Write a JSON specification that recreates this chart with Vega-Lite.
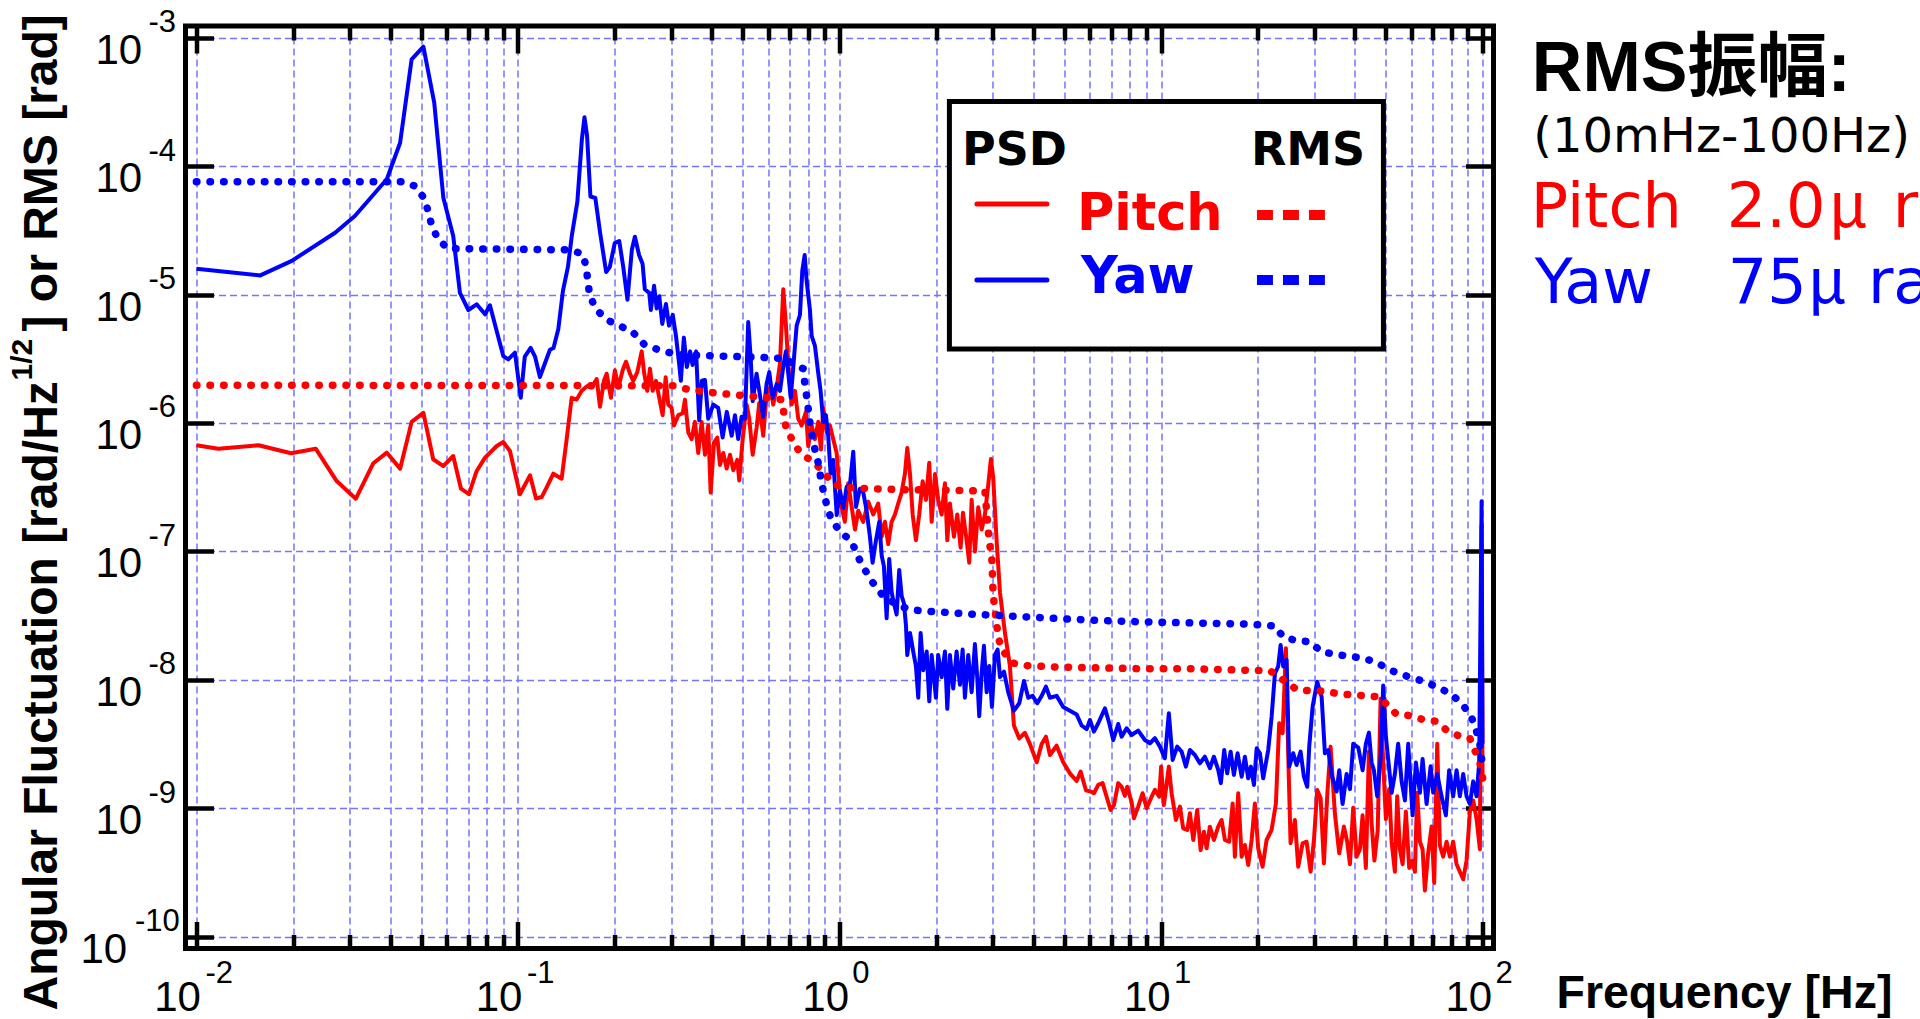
{
  "$schema": "https://vega.github.io/schema/vega-lite/v6.json",
  "width": 1308,
  "height": 922.5,
  "autosize": {"type": "none"},
  "padding": {"left": 185.5, "top": 26, "right": 426.5, "bottom": 70.5},
  "background": "white",
  "config": {
    "view": {"stroke": "black", "strokeWidth": 5},
    "axis": {"labelFont": "Liberation Sans", "labelColor": "black", "titleColor": "black", "titleFont": "Liberation Sans", "titleFontWeight": "bold", "labelFlush": false, "labelOverlap": false, "labelBound": false, "domain": false, "ticks": false, "grid": false}
  },
  "datasets": {
    "pitch": [
      {"f":0.0100,"v":6.71e-7},{"f":0.0117,"v":6.31e-7},{"f":0.0156,"v":6.71e-7},{"f":0.0197,"v":5.81e-7},{"f":0.0235,"v":6.31e-7},{"f":0.0273,"v":3.53e-7},{"f":0.0313,"v":2.57e-7},{"f":0.0355,"v":4.86e-7},{"f":0.0391,"v":5.87e-7},{"f":0.0430,"v":4.41e-7},{"f":0.0467,"v":1.02e-6},{"f":0.0508,"v":1.20e-6},{"f":0.0545,"v":5.22e-7},{"f":0.0586,"v":4.62e-7},{"f":0.0629,"v":5.53e-7},{"f":0.0665,"v":3.08e-7},{"f":0.0704,"v":2.79e-7},{"f":0.0744,"v":4.23e-7},{"f":0.0790,"v":5.37e-7},{"f":0.0859,"v":6.62e-7},{"f":0.0900,"v":7.11e-7},{"f":0.0944,"v":6.05e-7},{"f":0.1014,"v":2.79e-7},{"f":0.109,"v":3.91e-7},{"f":0.1138,"v":2.58e-7},{"f":0.1185,"v":2.65e-7},{"f":0.1228,"v":3.15e-7},{"f":0.1288,"v":4.03e-7},{"f":0.1367,"v":3.68e-7},{"f":0.1417,"v":7.48e-7},{"f":0.1469,"v":1.57e-6},{"f":0.1522,"v":1.52e-6},{"f":0.1578,"v":1.78e-6},{"f":0.1643,"v":1.94e-6},{"f":0.1695,"v":1.89e-6},{"f":0.1757,"v":2.20e-6},{"f":0.1799,"v":1.34e-6},{"f":0.1851,"v":2.13e-6},{"f":0.1887,"v":2.42e-6},{"f":0.1946,"v":1.57e-6},{"f":0.2002,"v":2.57e-6},{"f":0.2052,"v":1.89e-6},{"f":0.2116,"v":2.57e-6},{"f":0.2167,"v":3.00e-6},{"f":0.2230,"v":2.42e-6},{"f":0.2283,"v":2.13e-6},{"f":0.2350,"v":2.49e-6},{"f":0.2425,"v":3.61e-6},{"f":0.2470,"v":2.42e-6},{"f":0.2524,"v":1.78e-6},{"f":0.2573,"v":2.65e-6},{"f":0.2623,"v":1.78e-6},{"f":0.2686,"v":2.13e-6},{"f":0.2750,"v":1.57e-6},{"f":0.2818,"v":1.15e-6},{"f":0.2879,"v":2.27e-6},{"f":0.2933,"v":1.39e-6},{"f":0.3005,"v":1.31e-6},{"f":0.3055,"v":9.56e-7},{"f":0.3151,"v":1.15e-6},{"f":0.3253,"v":1.19e-6},{"f":0.3306,"v":1.52e-6},{"f":0.3385,"v":8.46e-7},{"f":0.3468,"v":7.48e-7},{"f":0.355,"v":1.02e-6},{"f":0.3636,"v":5.84e-7},{"f":0.3726,"v":1.02e-6},{"f":0.3815,"v":5.66e-7},{"f":0.3905,"v":9.56e-7},{"f":0.3974,"v":2.87e-7},{"f":0.407,"v":7.03e-7},{"f":0.4167,"v":7.71e-7},{"f":0.4248,"v":4.71e-7},{"f":0.4349,"v":5.84e-7},{"f":0.4457,"v":4.42e-7},{"f":0.4563,"v":5.66e-7},{"f":0.4672,"v":4.29e-7},{"f":0.4807,"v":5.16e-7},{"f":0.4877,"v":3.57e-7},{"f":0.4997,"v":7.48e-7},{"f":0.5142,"v":1.39e-6},{"f":0.5239,"v":1.08e-6},{"f":0.5369,"v":5.66e-7},{"f":0.5524,"v":9.27e-7},{"f":0.5628,"v":1.43e-6},{"f":0.579,"v":7.95e-7},{"f":0.5933,"v":1.67e-6},{"f":0.6106,"v":1.94e-6},{"f":0.622,"v":1.39e-6},{"f":0.6375,"v":1.89e-6},{"f":0.6527,"v":2.90e-6},{"f":0.6683,"v":1.10e-5},{"f":0.6813,"v":5.73e-6},{"f":0.6946,"v":2.57e-6},{"f":0.7098,"v":1.39e-6},{"f":0.7266,"v":1.78e-6},{"f":0.744,"v":1.08e-6},{"f":0.7622,"v":9.56e-7},{"f":0.7861,"v":1.22e-6},{"f":0.7992,"v":6.61e-7},{"f":0.8189,"v":9.56e-7},{"f":0.8385,"v":7.48e-7},{"f":0.8586,"v":1.02e-6},{"f":0.8754,"v":6.21e-7},{"f":0.8898,"v":1.31e-6},{"f":0.9118,"v":8.46e-7},{"f":0.9335,"v":9.56e-7},{"f":0.9558,"v":7.48e-7},{"f":0.9795,"v":5.84e-7},{"f":0.991,"v":4.01e-7},{"f":1.015,"v":2.21e-7},{"f":1.039,"v":1.70e-7},{"f":1.064,"v":3.40e-7},{"f":1.091,"v":2.21e-7},{"f":1.117,"v":1.48e-7},{"f":1.143,"v":2.07e-7},{"f":1.185,"v":1.70e-7},{"f":1.228,"v":2.44e-7},{"f":1.273,"v":1.94e-7},{"f":1.319,"v":2.36e-7},{"f":1.352,"v":1.30e-7},{"f":1.384,"v":1.70e-7},{"f":1.417,"v":1.14e-7},{"f":1.452,"v":1.70e-7},{"f":1.487,"v":1.94e-7},{"f":1.522,"v":2.36e-7},{"f":1.560,"v":2.88e-7},{"f":1.597,"v":4.01e-7},{"f":1.624,"v":6.39e-7},{"f":1.656,"v":4.01e-7},{"f":1.688,"v":1.94e-7},{"f":1.728,"v":1.22e-7},{"f":1.769,"v":1.94e-7},{"f":1.813,"v":3.52e-7},{"f":1.857,"v":2.52e-7},{"f":1.901,"v":4.90e-7},{"f":1.934,"v":1.70e-7},{"f":1.981,"v":4.01e-7},{"f":2.027,"v":2.52e-7},{"f":2.077,"v":1.94e-7},{"f":2.127,"v":3.40e-7},{"f":2.163,"v":1.22e-7},{"f":2.204,"v":2.36e-7},{"f":2.269,"v":1.30e-7},{"f":2.323,"v":1.94e-7},{"f":2.380,"v":1.07e-7},{"f":2.420,"v":2.00e-7},{"f":2.484,"v":1.22e-7},{"f":2.531,"v":8.17e-8},{"f":2.575,"v":2.52e-7},{"f":2.636,"v":9.97e-8},{"f":2.700,"v":2.21e-7},{"f":2.766,"v":1.48e-7},{"f":2.832,"v":1.94e-7},{"f":2.900,"v":3.29e-7},{"f":2.956,"v":5.24e-7},{"f":3.005,"v":3.76e-7},{"f":3.079,"v":1.22e-7},{"f":3.154,"v":4.81e-8},{"f":3.269,"v":2.32e-8},{"f":3.387,"v":1.28e-8},{"f":3.485,"v":4.41e-9},{"f":3.621,"v":3.50e-9},{"f":3.771,"v":3.87e-9},{"f":3.907,"v":3.17e-9},{"f":4.104,"v":2.28e-9},{"f":4.251,"v":3.17e-9},{"f":4.384,"v":3.61e-9},{"f":4.511,"v":2.60e-9},{"f":4.732,"v":3.07e-9},{"f":4.961,"v":2.28e-9},{"f":5.205,"v":1.87e-9},{"f":5.460,"v":1.63e-9},{"f":5.620,"v":1.93e-9},{"f":5.838,"v":1.38e-9},{"f":6.080,"v":1.34e-9},{"f":6.180,"v":1.31e-9},{"f":6.375,"v":1.52e-9},{"f":6.578,"v":1.57e-9},{"f":6.768,"v":1.23e-9},{"f":6.966,"v":9.70e-10},{"f":7.133,"v":1.06e-9},{"f":7.355,"v":1.57e-9},{"f":7.537,"v":1.47e-9},{"f":7.715,"v":1.25e-9},{"f":7.845,"v":1.47e-9},{"f":8.095,"v":1.12e-9},{"f":8.230,"v":8.36e-10},{"f":8.487,"v":1.03e-9},{"f":8.760,"v":1.31e-9},{"f":9.015,"v":1.00e-9},{"f":9.343,"v":1.23e-9},{"f":9.566,"v":1.39e-9},{"f":9.865,"v":1.23e-9},{"f":10.0,"v":2.11e-9},{"f":10.2,"v":1.06e-9},{"f":10.57,"v":2.11e-9},{"f":10.78,"v":1.31e-9},{"f":11.12,"v":8.10e-10},{"f":11.44,"v":1.03e-9},{"f":11.71,"v":6.98e-10},{"f":12.06,"v":6.78e-10},{"f":12.29,"v":9.14e-10},{"f":12.59,"v":5.66e-10},{"f":12.95,"v":9.70e-10},{"f":13.27,"v":4.73e-10},{"f":13.59,"v":6.57e-10},{"f":13.85,"v":4.88e-10},{"f":14.18,"v":7.19e-10},{"f":14.59,"v":5.66e-10},{"f":15.05,"v":7.19e-10},{"f":15.42,"v":8.10e-10},{"f":15.79,"v":5.66e-10},{"f":16.28,"v":5.49e-10},{"f":16.69,"v":1.09e-9},{"f":16.96,"v":4.20e-10},{"f":17.37,"v":1.31e-9},{"f":17.8,"v":4.20e-10},{"f":18.22,"v":5.18e-10},{"f":18.66,"v":3.62e-10},{"f":19.12,"v":5.66e-10},{"f":19.57,"v":1.09e-9},{"f":20.04,"v":4.88e-10},{"f":20.68,"v":3.51e-10},{"f":21.28,"v":5.66e-10},{"f":22.06,"v":6.78e-10},{"f":22.75,"v":1.09e-9},{"f":23.29,"v":4.59e-9},{"f":23.87,"v":3.84e-9},{"f":24.44,"v":1.76e-8},{"f":24.84,"v":2.68e-9},{"f":25.27,"v":5.34e-10},{"f":26.06,"v":8.10e-10},{"f":26.69,"v":3.51e-10},{"f":27.54,"v":5.34e-10},{"f":28.34,"v":5.49e-10},{"f":29.17,"v":3.21e-10},{"f":29.87,"v":5.66e-10},{"f":30.58,"v":1.39e-9},{"f":31.33,"v":1.20e-9},{"f":32.08,"v":3.73e-10},{"f":32.88,"v":1.31e-9},{"f":33.65,"v":3.02e-9},{"f":34.7,"v":9.14e-10},{"f":35.8,"v":4.46e-10},{"f":37.02,"v":7.20e-10},{"f":37.9,"v":5.49e-10},{"f":38.66,"v":3.67e-10},{"f":39.57,"v":1.01e-9},{"f":40.54,"v":4.20e-10},{"f":41.51,"v":4.80e-10},{"f":42.32,"v":8.82e-10},{"f":43.33,"v":3.43e-10},{"f":44.28,"v":2.77e-9},{"f":45.13,"v":7.70e-10},{"f":46.05,"v":3.92e-10},{"f":47.16,"v":6.73e-10},{"f":48.14,"v":7.13e-9},{"f":49.05,"v":2.27e-9},{"f":50.0,"v":8.24e-10},{"f":51.2,"v":1.41e-9},{"f":52.09,"v":5.49e-10},{"f":53.33,"v":3.20e-10},{"f":54.21,"v":1.24e-9},{"f":55.27,"v":4.80e-10},{"f":56.36,"v":3.67e-10},{"f":57.7,"v":9.42e-10},{"f":59.09,"v":3.43e-10},{"f":60.53,"v":3.92e-10},{"f":61.54,"v":3.20e-10},{"f":62.56,"v":1.32e-9},{"f":63.8,"v":5.49e-10},{"f":65.03,"v":4.80e-10},{"f":66.11,"v":2.29e-10},{"f":67.68,"v":4.49e-10},{"f":69.36,"v":7.20e-10},{"f":70.67,"v":2.62e-10},{"f":72.21,"v":3.18e-9},{"f":73.61,"v":5.14e-10},{"f":75.37,"v":4.20e-10},{"f":77.21,"v":5.49e-10},{"f":79.07,"v":4.20e-10},{"f":80.95,"v":5.49e-10},{"f":82.95,"v":3.67e-10},{"f":84.92,"v":3.20e-10},{"f":86.97,"v":2.80e-10},{"f":89.1,"v":3.92e-10},{"f":91.25,"v":9.42e-10},{"f":93.43,"v":1.15e-9},{"f":95.72,"v":8.24e-10},{"f":98.02,"v":4.80e-10},{"f":99.22,"v":1.59e-7},{"f":99.9,"v":1.62e-9}
    ],
    "yaw": [
      {"f":0.0100,"v":1.59e-5},{"f":0.0158,"v":1.41e-5},{"f":0.0198,"v":1.83e-5},{"f":0.0270,"v":3.03e-5},{"f":0.0311,"v":4.09e-5},{"f":0.0391,"v":7.90e-5},{"f":0.0430,"v":1.52e-4},{"f":0.0467,"v":6.79e-4},{"f":0.0508,"v":8.51e-4},{"f":0.0549,"v":3.12e-4},{"f":0.0586,"v":5.68e-5},{"f":0.0629,"v":2.86e-5},{"f":0.0660,"v":1.03e-5},{"f":0.0701,"v":7.58e-6},{"f":0.0744,"v":8.40e-6},{"f":0.0790,"v":7.02e-6},{"f":0.0818,"v":8.25e-6},{"f":0.0900,"v":3.32e-6},{"f":0.0933,"v":3.13e-6},{"f":0.0979,"v":3.53e-6},{"f":0.102,"v":1.57e-6},{"f":0.105,"v":3.29e-6},{"f":0.1095,"v":3.84e-6},{"f":0.113,"v":3.29e-6},{"f":0.117,"v":2.28e-6},{"f":0.1257,"v":3.72e-6},{"f":0.129,"v":3.84e-6},{"f":0.1335,"v":5.39e-6},{"f":0.138,"v":1.07e-5},{"f":0.143,"v":1.64e-5},{"f":0.147,"v":2.86e-5},{"f":0.153,"v":5.29e-5},{"f":0.158,"v":1.61e-4},{"f":0.161,"v":2.40e-4},{"f":0.164,"v":1.72e-4},{"f":0.168,"v":5.80e-5},{"f":0.174,"v":5.65e-5},{"f":0.180,"v":3.04e-5},{"f":0.188,"v":1.50e-5},{"f":0.193,"v":1.64e-5},{"f":0.200,"v":2.52e-5},{"f":0.2065,"v":2.61e-5},{"f":0.2125,"v":1.64e-5},{"f":0.219,"v":9.10e-6},{"f":0.226,"v":2.23e-5},{"f":0.231,"v":2.82e-5},{"f":0.238,"v":2.03e-5},{"f":0.244,"v":1.74e-5},{"f":0.248,"v":1.10e-5},{"f":0.256,"v":1.03e-5},{"f":0.259,"v":7.58e-6},{"f":0.265,"v":1.17e-5},{"f":0.270,"v":7.80e-6},{"f":0.275,"v":9.69e-6},{"f":0.281,"v":5.91e-6},{"f":0.2885,"v":8.44e-6},{"f":0.295,"v":5.73e-6},{"f":0.303,"v":6.93e-6},{"f":0.310,"v":4.76e-6},{"f":0.317,"v":2.90e-6},{"f":0.321,"v":2.13e-6},{"f":0.328,"v":4.62e-6},{"f":0.335,"v":2.73e-6},{"f":0.343,"v":3.61e-6},{"f":0.349,"v":2.83e-6},{"f":0.358,"v":3.61e-6},{"f":0.366,"v":1.05e-6},{"f":0.373,"v":2.13e-6},{"f":0.3815,"v":2.16e-6},{"f":0.3905,"v":1.08e-6},{"f":0.405,"v":1.39e-6},{"f":0.4195,"v":1.31e-6},{"f":0.433,"v":7.71e-7},{"f":0.446,"v":1.22e-6},{"f":0.462,"v":7.95e-7},{"f":0.473,"v":1.15e-6},{"f":0.484,"v":7.50e-7},{"f":0.496,"v":1.12e-6},{"f":0.508,"v":1.08e-6},{"f":0.520,"v":6.11e-6},{"f":0.529,"v":3.29e-6},{"f":0.537,"v":1.48e-6},{"f":0.552,"v":2.42e-6},{"f":0.563,"v":1.78e-6},{"f":0.579,"v":1.12e-6},{"f":0.593,"v":2.01e-6},{"f":0.6045,"v":2.49e-6},{"f":0.619,"v":1.57e-6},{"f":0.6375,"v":2.01e-6},{"f":0.653,"v":1.78e-6},{"f":0.668,"v":2.73e-6},{"f":0.681,"v":3.61e-6},{"f":0.693,"v":2.42e-6},{"f":0.705,"v":1.57e-6},{"f":0.718,"v":2.73e-6},{"f":0.7355,"v":5.73e-6},{"f":0.753,"v":6.93e-6},{"f":0.766,"v":1.54e-5},{"f":0.779,"v":2.03e-5},{"f":0.790,"v":1.28e-5},{"f":0.809,"v":7.58e-6},{"f":0.819,"v":4.76e-6},{"f":0.8385,"v":3.98e-6},{"f":0.859,"v":2.42e-6},{"f":0.873,"v":1.78e-6},{"f":0.890,"v":1.02e-6},{"f":0.907,"v":1.15e-6},{"f":0.922,"v":7.95e-7},{"f":0.938,"v":4.03e-7},{"f":0.956,"v":5.15e-7},{"f":0.980,"v":1.92e-7},{"f":1.003,"v":2.95e-7},{"f":1.027,"v":2.18e-7},{"f":1.052,"v":3.17e-7},{"f":1.077,"v":3.29e-7},{"f":1.103,"v":5.98e-7},{"f":1.125,"v":2.22e-7},{"f":1.157,"v":3.08e-7},{"f":1.185,"v":2.88e-7},{"f":1.214,"v":2.07e-7},{"f":1.243,"v":1.30e-7},{"f":1.267,"v":8.17e-8},{"f":1.298,"v":1.22e-7},{"f":1.329,"v":1.70e-7},{"f":1.352,"v":9.33e-8},{"f":1.374,"v":7.65e-8},{"f":1.401,"v":3.02e-8},{"f":1.427,"v":8.73e-8},{"f":1.452,"v":4.81e-8},{"f":1.476,"v":3.94e-8},{"f":1.505,"v":3.23e-8},{"f":1.533,"v":7.17e-8},{"f":1.560,"v":4.50e-8},{"f":1.586,"v":3.94e-8},{"f":1.609,"v":2.65e-8},{"f":1.624,"v":1.56e-8},{"f":1.656,"v":2.32e-8},{"f":1.695,"v":1.66e-8},{"f":1.728,"v":1.28e-8},{"f":1.757,"v":7.26e-9},{"f":1.787,"v":2.32e-8},{"f":1.821,"v":1.19e-8},{"f":1.866,"v":1.66e-8},{"f":1.901,"v":6.80e-9},{"f":1.934,"v":1.56e-8},{"f":1.994,"v":7.26e-9},{"f":2.027,"v":1.56e-8},{"f":2.077,"v":1.05e-8},{"f":2.127,"v":1.66e-8},{"f":2.163,"v":5.95e-9},{"f":2.204,"v":1.56e-8},{"f":2.257,"v":8.56e-9},{"f":2.312,"v":1.66e-8},{"f":2.368,"v":9.15e-9},{"f":2.414,"v":1.72e-8},{"f":2.454,"v":7.26e-9},{"f":2.513,"v":1.56e-8},{"f":2.575,"v":8.01e-9},{"f":2.636,"v":1.90e-8},{"f":2.680,"v":1.05e-8},{"f":2.719,"v":5.21e-9},{"f":2.766,"v":1.12e-8},{"f":2.812,"v":1.84e-8},{"f":2.867,"v":8.01e-9},{"f":2.921,"v":1.28e-8},{"f":2.978,"v":6.15e-9},{"f":3.042,"v":1.56e-8},{"f":3.102,"v":1.72e-8},{"f":3.154,"v":1.05e-8},{"f":3.246,"v":1.16e-8},{"f":3.346,"v":8.01e-9},{"f":3.485,"v":5.75e-9},{"f":3.621,"v":6.57e-9},{"f":3.745,"v":9.78e-9},{"f":3.862,"v":7.26e-9},{"f":3.985,"v":7.50e-9},{"f":4.119,"v":6.57e-9},{"f":4.251,"v":7.50e-9},{"f":4.384,"v":8.86e-9},{"f":4.511,"v":7.26e-9},{"f":4.732,"v":7.50e-9},{"f":4.961,"v":6.15e-9},{"f":5.205,"v":5.75e-9},{"f":5.460,"v":5.38e-9},{"f":5.660,"v":4.41e-9},{"f":5.867,"v":4.13e-9},{"f":6.007,"v":4.87e-9},{"f":6.180,"v":3.95e-9},{"f":6.375,"v":4.59e-9},{"f":6.688,"v":6.00e-9},{"f":6.898,"v":4.59e-9},{"f":7.098,"v":3.40e-9},{"f":7.355,"v":4.53e-9},{"f":7.537,"v":3.61e-9},{"f":7.811,"v":4.20e-9},{"f":8.095,"v":3.72e-9},{"f":8.487,"v":4.02e-9},{"f":8.904,"v":3.40e-9},{"f":9.231,"v":3.21e-9},{"f":9.566,"v":3.51e-9},{"f":9.915,"v":3.02e-9},{"f":10.27,"v":2.45e-9},{"f":10.57,"v":5.49e-9},{"f":10.86,"v":2.38e-9},{"f":11.22,"v":3.02e-9},{"f":11.58,"v":2.76e-9},{"f":11.94,"v":2.11e-9},{"f":12.29,"v":2.84e-9},{"f":12.74,"v":2.60e-9},{"f":13.2,"v":2.24e-9},{"f":13.68,"v":2.52e-9},{"f":14.18,"v":2.05e-9},{"f":14.59,"v":2.52e-9},{"f":15.05,"v":1.99e-9},{"f":15.34,"v":1.57e-9},{"f":15.71,"v":2.84e-9},{"f":16.05,"v":1.87e-9},{"f":16.45,"v":2.76e-9},{"f":16.84,"v":1.82e-9},{"f":17.29,"v":2.68e-9},{"f":17.8,"v":1.76e-9},{"f":18.22,"v":2.52e-9},{"f":18.66,"v":1.71e-9},{"f":19.02,"v":2.11e-9},{"f":19.44,"v":1.52e-9},{"f":19.82,"v":2.93e-9},{"f":20.29,"v":2.68e-9},{"f":20.77,"v":1.71e-9},{"f":21.53,"v":2.84e-9},{"f":22.06,"v":5.16e-9},{"f":22.59,"v":1.12e-8},{"f":23.12,"v":1.27e-8},{"f":23.53,"v":1.87e-8},{"f":23.98,"v":1.27e-8},{"f":24.56,"v":1.43e-8},{"f":25.02,"v":2.11e-9},{"f":25.75,"v":2.68e-9},{"f":26.38,"v":2.17e-9},{"f":27.15,"v":2.76e-9},{"f":27.8,"v":1.76e-9},{"f":28.47,"v":1.47e-9},{"f":28.88,"v":3.02e-9},{"f":29.59,"v":6.18e-9},{"f":30.58,"v":9.67e-9},{"f":31.56,"v":7.39e-9},{"f":32.31,"v":2.68e-9},{"f":33.1,"v":2.84e-9},{"f":33.9,"v":1.82e-9},{"f":35.14,"v":1.35e-9},{"f":35.8,"v":1.98e-9},{"f":36.67,"v":1.08e-9},{"f":37.74,"v":1.85e-9},{"f":38.66,"v":1.41e-9},{"f":39.57,"v":3.18e-9},{"f":41.04,"v":2.97e-9},{"f":42.32,"v":1.98e-9},{"f":43.33,"v":3.18e-9},{"f":44.28,"v":3.88e-9},{"f":45.13,"v":2.27e-9},{"f":45.89,"v":1.98e-9},{"f":46.99,"v":1.24e-9},{"f":48.14,"v":2.42e-9},{"f":49.05,"v":9.04e-9},{"f":50.0,"v":3.63e-9},{"f":50.82,"v":2.42e-9},{"f":52.09,"v":1.32e-9},{"f":53.33,"v":1.85e-9},{"f":54.6,"v":3.18e-9},{"f":55.96,"v":1.62e-9},{"f":57.31,"v":1.15e-9},{"f":58.67,"v":3.18e-9},{"f":60.53,"v":8.82e-10},{"f":61.99,"v":2.27e-9},{"f":63.8,"v":1.32e-9},{"f":65.03,"v":2.42e-9},{"f":66.92,"v":1.08e-9},{"f":68.87,"v":2.12e-9},{"f":70.16,"v":1.32e-9},{"f":72.21,"v":1.85e-9},{"f":74.49,"v":1.24e-9},{"f":76.83,"v":8.82e-10},{"f":78.66,"v":1.98e-9},{"f":80.95,"v":1.24e-9},{"f":82.95,"v":1.98e-9},{"f":84.92,"v":1.24e-9},{"f":86.97,"v":1.85e-9},{"f":89.1,"v":1.24e-9},{"f":91.25,"v":1.08e-9},{"f":93.43,"v":1.62e-9},{"f":95.72,"v":1.24e-9},{"f":97.52,"v":2.27e-9},{"f":99.22,"v":2.46e-7},{"f":99.9,"v":3.18e-9}
    ],
    "pitchRms": [
      {"f":0.01,"v":1.97e-6},{"f":0.3034,"v":1.95e-6},{"f":0.343,"v":1.81e-6},{"f":0.405,"v":1.72e-6},{"f":0.600,"v":1.57e-6},{"f":0.661,"v":1.52e-6},{"f":0.672,"v":1.17e-6},{"f":0.6813,"v":9.27e-7},{"f":0.715,"v":7.24e-7},{"f":0.757,"v":5.77e-7},{"f":0.828,"v":5.00e-7},{"f":0.901,"v":4.03e-7},{"f":0.9558,"v":3.35e-7},{"f":1.027,"v":3.15e-7},{"f":1.243,"v":3.08e-7},{"f":1.541,"v":3.03e-7},{"f":2.368,"v":2.98e-7},{"f":2.832,"v":2.95e-7},{"f":2.921,"v":1.18e-7},{"f":2.972,"v":9.33e-8},{"f":2.985,"v":7.17e-8},{"f":2.994,"v":5.68e-8},{"f":3.005,"v":4.50e-8},{"f":3.042,"v":3.57e-8},{"f":3.079,"v":2.74e-8},{"f":3.114,"v":2.17e-8},{"f":3.192,"v":1.72e-8},{"f":3.468,"v":1.35e-8},{"f":3.818,"v":1.29e-8},{"f":4.643,"v":1.26e-8},{"f":6.226,"v":1.24e-8},{"f":8.795,"v":1.22e-8},{"f":12.29,"v":1.22e-8},{"f":18.0,"v":1.19e-8},{"f":21.79,"v":1.18e-8},{"f":23.98,"v":9.97e-9},{"f":26.5,"v":8.34e-9},{"f":29.17,"v":8.23e-9},{"f":32.31,"v":8.16e-9},{"f":35.53,"v":7.79e-9},{"f":39.11,"v":7.63e-9},{"f":43.0,"v":7.53e-9},{"f":47.66,"v":7.38e-9},{"f":49.66,"v":6.66e-9},{"f":53.71,"v":5.45e-9},{"f":59.09,"v":5.27e-9},{"f":65.03,"v":4.92e-9},{"f":71.54,"v":4.76e-9},{"f":76.83,"v":4.10e-9},{"f":83.91,"v":3.68e-9},{"f":91.25,"v":3.51e-9},{"f":94.56,"v":2.81e-9},{"f":98.02,"v":2.26e-9},{"f":100,"v":1.71e-9}
    ],
    "yawRms": [
      {"f":0.01,"v":7.57e-5},{"f":0.0435,"v":7.57e-5},{"f":0.0478,"v":7.00e-5},{"f":0.0511,"v":5.62e-5},{"f":0.0526,"v":4.42e-5},{"f":0.0539,"v":3.46e-5},{"f":0.0563,"v":2.72e-5},{"f":0.0605,"v":2.28e-5},{"f":0.145,"v":2.23e-5},{"f":0.159,"v":2.07e-5},{"f":0.163,"v":1.64e-5},{"f":0.165,"v":1.26e-5},{"f":0.167,"v":1.00e-5},{"f":0.174,"v":7.80e-6},{"f":0.188,"v":6.41e-6},{"f":0.2065,"v":5.73e-6},{"f":0.227,"v":5.13e-6},{"f":0.247,"v":4.09e-6},{"f":0.273,"v":3.72e-6},{"f":0.3005,"v":3.50e-6},{"f":0.3306,"v":3.39e-6},{"f":0.5933,"v":3.23e-6},{"f":0.6527,"v":3.19e-6},{"f":0.701,"v":3.00e-6},{"f":0.771,"v":2.65e-6},{"f":0.779,"v":2.07e-6},{"f":0.790,"v":1.62e-6},{"f":0.7992,"v":1.29e-6},{"f":0.809,"v":1.00e-6},{"f":0.823,"v":7.85e-7},{"f":0.8385,"v":6.21e-7},{"f":0.859,"v":4.86e-7},{"f":0.873,"v":3.79e-7},{"f":0.890,"v":2.96e-7},{"f":0.912,"v":2.31e-7},{"f":0.938,"v":1.84e-7},{"f":0.998,"v":1.44e-7},{"f":1.091,"v":1.20e-7},{"f":1.135,"v":9.33e-8},{"f":1.191,"v":7.40e-8},{"f":1.264,"v":5.79e-8},{"f":1.352,"v":4.65e-8},{"f":1.452,"v":4.07e-8},{"f":1.624,"v":3.57e-8},{"f":1.778,"v":3.45e-8},{"f":2.178,"v":3.34e-8},{"f":2.655,"v":3.23e-8},{"f":3.228,"v":3.16e-8},{"f":3.907,"v":3.08e-8},{"f":4.766,"v":3.00e-8},{"f":6.375,"v":2.90e-8},{"f":9.054,"v":2.82e-8},{"f":13.85,"v":2.76e-8},{"f":18.52,"v":2.72e-8},{"f":20.54,"v":2.67e-8},{"f":22.59,"v":2.63e-8},{"f":23.98,"v":2.15e-8},{"f":26.38,"v":2.02e-8},{"f":29.02,"v":1.98e-8},{"f":31.47,"v":1.66e-8},{"f":34.7,"v":1.58e-8},{"f":38.18,"v":1.53e-8},{"f":42.02,"v":1.48e-8},{"f":46.56,"v":1.38e-8},{"f":50.47,"v":1.22e-8},{"f":55.27,"v":1.11e-8},{"f":61.1,"v":1.03e-8},{"f":66.92,"v":9.54e-9},{"f":73.61,"v":8.61e-9},{"f":80.37,"v":7.64e-9},{"f":86.97,"v":6.36e-9},{"f":92.36,"v":5.09e-9},{"f":95.72,"v":3.95e-9},{"f":98.02,"v":3.13e-9},{"f":99.22,"v":2.42e-9}
    ]
  },
  "resolve": {"axis": {"x": "independent", "y": "independent"}},
  "layer": [
    {
      "data": {"name": "pitch"},
      "mark": {"type": "line", "color": "#ff0000", "strokeWidth": 4, "strokeJoin": "round"},
      "encoding": {
        "x": {"field": "f", "type": "quantitative", "scale": {"type": "log", "domain": [0.009249, 108.05], "nice": false, "zero": false},
          "axis": {"orient": "bottom", "values": [0.01, 0.1, 1, 10, 100], "labelExpr": "'10'", "labelFontSize": 42, "labelAlign": "right", "labelBaseline": "alphabetic", "labelPadding": 61.5, "labelOffset": {"condition": {"test": "datum.value < 0.5", "value": 4}, "value": 9},
            "title": "Frequency [Hz]", "titleX": 1370.5, "titleY": 59, "titleAlign": "left", "titleBaseline": "alphabetic", "titleAngle": 0, "titleFontSize": 46.5}},
        "y": {"field": "v", "type": "quantitative", "scale": {"type": "log", "domain": [8.093e-11, 1.2333e-3], "nice": false, "zero": false},
          "axis": {"orient": "left", "values": [1e-10, 1e-9, 1e-8, 1e-7, 1e-6, 1e-5, 1e-4, 1e-3], "labelExpr": "'10'", "labelFontSize": 42, "labelAlign": "right", "labelBaseline": "alphabetic", "labelOffset": 25.5, "labelPadding": {"condition": {"test": "datum.value < 5e-10", "value": 58.8}, "value": 43.8},
            "title": "Angular Fluctuation [rad/Hz", "titleX": -128.8, "titleY": 984, "titleAlign": "left", "titleBaseline": "alphabetic", "titleAngle": -90, "titleFontSize": 48}}
      }
    },
    {
      "data": {"name": "yaw"},
      "mark": {"type": "line", "color": "#0000ff", "strokeWidth": 4, "strokeJoin": "round"},
      "encoding": {
        "x": {"field": "f", "type": "quantitative", "scale": {"type": "log", "domain": [0.009249, 108.05], "nice": false, "zero": false},
          "axis": {"orient": "bottom", "values": [0.01, 0.1, 1, 10, 100], "labelExpr": "'' + round(log(datum.value)/LN10)", "labelFontSize": 31, "labelAlign": "left", "labelBaseline": "alphabetic", "labelPadding": 33.5, "labelOffset": {"condition": {"test": "datum.value < 0.5", "value": 8.5}, "value": 12.3}, "title": null}},
        "y": {"field": "v", "type": "quantitative", "scale": {"type": "log", "domain": [8.093e-11, 1.2333e-3], "nice": false, "zero": false},
          "axis": {"orient": "left", "values": [1e-10, 1e-9, 1e-8, 1e-7, 1e-6, 1e-5, 1e-4, 1e-3], "labelExpr": "'' + round(log(datum.value)/LN10)", "labelFontSize": 31, "labelAlign": "right", "labelBaseline": "alphabetic", "labelOffset": -6, "labelPadding": {"condition": {"test": "datum.value < 5e-10", "value": 6.3}, "value": 10},
            "title": "1/2", "titleX": -153.8, "titleY": 354, "titleAlign": "left", "titleBaseline": "alphabetic", "titleAngle": -90, "titleFontSize": 30}}
      }
    },
    {
      "data": {"name": "pitchRms"},
      "mark": {"type": "line", "color": "#ff0000", "strokeWidth": 7.5, "strokeDash": [0.5, 13.1], "strokeCap": "round"},
      "encoding": {
        "x": {"field": "f", "type": "quantitative", "scale": {"type": "log", "domain": [0.009249, 108.05], "nice": false, "zero": false},
          "axis": {"orient": "bottom", "values": [0.01,0.02,0.03,0.04,0.05,0.06,0.07,0.08,0.09,0.1,0.2,0.3,0.4,0.5,0.6,0.7,0.8,0.9,1,2,3,4,5,6,7,8,9,10,20,30,40,50,60,70,80,90,100], "labels": false, "ticks": true, "tickColor": "black", "tickWidth": 4.5,
            "tickSize": {"condition": {"test": "abs(log(datum.value)/LN10 - round(log(datum.value)/LN10)) < 0.001", "value": -27}, "value": -14},
            "grid": true, "gridColor": "#7474ff", "gridWidth": 1.5, "gridDash": [7, 4], "title": null}},
        "y": {"field": "v", "type": "quantitative", "scale": {"type": "log", "domain": [8.093e-11, 1.2333e-3], "nice": false, "zero": false},
          "axis": {"orient": "left", "values": [1e-10, 1e-9, 1e-8, 1e-7, 1e-6, 1e-5, 1e-4, 1e-3], "labels": false, "ticks": true, "tickColor": "black", "tickWidth": 4.5, "tickSize": -28,
            "grid": true, "gridColor": "#7474ff", "gridWidth": 1.5, "gridDash": [7, 4],
            "title": "] or RMS [rad]", "titleX": -128.8, "titleY": 305, "titleAlign": "left", "titleBaseline": "alphabetic", "titleAngle": -90, "titleFontSize": 48}}
      }
    },
    {
      "data": {"name": "yawRms"},
      "mark": {"type": "line", "color": "#0000ff", "strokeWidth": 7.5, "strokeDash": [0.5, 13.1], "strokeCap": "round"},
      "encoding": {
        "x": {"field": "f", "type": "quantitative", "scale": {"type": "log", "domain": [0.009249, 108.05], "nice": false, "zero": false},
          "axis": {"orient": "top", "values": [0.01,0.02,0.03,0.04,0.05,0.06,0.07,0.08,0.09,0.1,0.2,0.3,0.4,0.5,0.6,0.7,0.8,0.9,1,2,3,4,5,6,7,8,9,10,20,30,40,50,60,70,80,90,100], "labels": false, "ticks": true, "tickColor": "black", "tickWidth": 4.5,
            "tickSize": {"condition": {"test": "abs(log(datum.value)/LN10 - round(log(datum.value)/LN10)) < 0.001", "value": -27}, "value": -14}, "title": null}},
        "y": {"field": "v", "type": "quantitative", "scale": {"type": "log", "domain": [8.093e-11, 1.2333e-3], "nice": false, "zero": false},
          "axis": {"orient": "right", "values": [1e-10, 1e-9, 1e-8, 1e-7, 1e-6, 1e-5, 1e-4, 1e-3], "labels": false, "ticks": true, "tickColor": "black", "tickWidth": 4.5, "tickSize": -28, "title": null}}
      }
    },
    {
      "data": {"values": [{}]},
      "mark": {"type": "rect", "fill": "white", "stroke": "black", "strokeWidth": 5},
      "encoding": {
        "x": {"datum": 2.196, "type": "quantitative", "scale": {"type": "log", "domain": [0.009249, 108.05], "nice": false, "zero": false}, "axis": null},
        "x2": {"datum": 49.13},
        "y": {"datum": 3.19e-4, "type": "quantitative", "scale": {"type": "log", "domain": [8.093e-11, 1.2333e-3], "nice": false, "zero": false}, "axis": null},
        "y2": {"datum": 3.77e-6}
      }
    },
    {
      "data": {"values": [{}]},
      "mark": {"type": "text", "text": "PSD", "font": "DejaVu Sans", "fontWeight": "bold", "fontSize": 46, "align": "left", "baseline": "alphabetic", "color": "black"},
      "encoding": {
        "x": {"datum": 2.402, "type": "quantitative", "scale": {"type": "log", "domain": [0.009249, 108.05], "nice": false, "zero": false}, "axis": null},
        "y": {"datum": 1.02e-4, "type": "quantitative", "scale": {"type": "log", "domain": [8.093e-11, 1.2333e-3], "nice": false, "zero": false}, "axis": null}
      }
    },
    {
      "data": {"values": [{}]},
      "mark": {"type": "text", "text": "RMS", "font": "DejaVu Sans", "fontWeight": "bold", "fontSize": 46, "align": "left", "baseline": "alphabetic", "color": "black"},
      "encoding": {
        "x": {"datum": 19.02, "type": "quantitative", "scale": {"type": "log", "domain": [0.009249, 108.05], "nice": false, "zero": false}, "axis": null},
        "y": {"datum": 1.02e-4, "type": "quantitative", "scale": {"type": "log", "domain": [8.093e-11, 1.2333e-3], "nice": false, "zero": false}, "axis": null}
      }
    },
    {
      "data": {"values": [{}]},
      "mark": {"type": "text", "text": "Pitch", "font": "DejaVu Sans", "fontWeight": "bold", "fontSize": 51, "align": "left", "baseline": "alphabetic", "color": "#ff0000"},
      "encoding": {
        "x": {"datum": 5.471, "type": "quantitative", "scale": {"type": "log", "domain": [0.009249, 108.05], "nice": false, "zero": false}, "axis": null},
        "y": {"datum": 3.18e-5, "type": "quantitative", "scale": {"type": "log", "domain": [8.093e-11, 1.2333e-3], "nice": false, "zero": false}, "axis": null}
      }
    },
    {
      "data": {"values": [{}]},
      "mark": {"type": "text", "text": "Yaw", "font": "DejaVu Sans", "fontWeight": "bold", "fontSize": 51, "align": "left", "baseline": "alphabetic", "color": "#0000ff"},
      "encoding": {
        "x": {"datum": 5.63, "type": "quantitative", "scale": {"type": "log", "domain": [0.009249, 108.05], "nice": false, "zero": false}, "axis": null},
        "y": {"datum": 1.03e-5, "type": "quantitative", "scale": {"type": "log", "domain": [8.093e-11, 1.2333e-3], "nice": false, "zero": false}, "axis": null}
      }
    },
    {
      "data": {"values": [{}]},
      "mark": {"type": "rule", "color": "#ff0000", "strokeWidth": 5, "strokeCap": "round"},
      "encoding": {
        "x": {"datum": 2.674, "type": "quantitative", "scale": {"type": "log", "domain": [0.009249, 108.05], "nice": false, "zero": false}, "axis": null},
        "x2": {"datum": 4.414},
        "y": {"datum": 5.07e-5, "type": "quantitative", "scale": {"type": "log", "domain": [8.093e-11, 1.2333e-3], "nice": false, "zero": false}, "axis": null}
      }
    },
    {
      "data": {"values": [{}]},
      "mark": {"type": "rule", "color": "#0000ff", "strokeWidth": 5, "strokeCap": "round"},
      "encoding": {
        "x": {"datum": 2.674, "type": "quantitative", "scale": {"type": "log", "domain": [0.009249, 108.05], "nice": false, "zero": false}, "axis": null},
        "x2": {"datum": 4.414},
        "y": {"datum": 1.30e-5, "type": "quantitative", "scale": {"type": "log", "domain": [8.093e-11, 1.2333e-3], "nice": false, "zero": false}, "axis": null}
      }
    },
    {
      "data": {"values": [{}]},
      "mark": {"type": "rule", "color": "#ff0000", "strokeWidth": 10, "strokeDash": [16, 10]},
      "encoding": {
        "x": {"datum": 19.86, "type": "quantitative", "scale": {"type": "log", "domain": [0.009249, 108.05], "nice": false, "zero": false}, "axis": null},
        "x2": {"datum": 32.31},
        "y": {"datum": 4.16e-5, "type": "quantitative", "scale": {"type": "log", "domain": [8.093e-11, 1.2333e-3], "nice": false, "zero": false}, "axis": null}
      }
    },
    {
      "data": {"values": [{}]},
      "mark": {"type": "rule", "color": "#0000ff", "strokeWidth": 10, "strokeDash": [16, 10]},
      "encoding": {
        "x": {"datum": 19.86, "type": "quantitative", "scale": {"type": "log", "domain": [0.009249, 108.05], "nice": false, "zero": false}, "axis": null},
        "x2": {"datum": 32.31},
        "y": {"datum": 1.30e-5, "type": "quantitative", "scale": {"type": "log", "domain": [8.093e-11, 1.2333e-3], "nice": false, "zero": false}, "axis": null}
      }
    },
    {
      "data": {"values": [{}]},
      "mark": {"type": "text", "text": "RMS振幅:", "font": "Liberation Sans, Noto Sans CJK JP", "fontWeight": "bold", "fontSize": 70, "align": "left", "baseline": "alphabetic", "color": "black"},
      "encoding": {
        "x": {"datum": 142.2, "type": "quantitative", "scale": {"type": "log", "domain": [0.009249, 108.05], "nice": false, "zero": false}, "axis": null},
        "y": {"datum": 3.85e-4, "type": "quantitative", "scale": {"type": "log", "domain": [8.093e-11, 1.2333e-3], "nice": false, "zero": false}, "axis": null}
      }
    },
    {
      "data": {"values": [{}]},
      "mark": {"type": "text", "text": "(10mHz-100Hz)", "font": "DejaVu Sans", "fontSize": 48, "align": "left", "baseline": "alphabetic", "color": "black"},
      "encoding": {
        "x": {"datum": 143.6, "type": "quantitative", "scale": {"type": "log", "domain": [0.009249, 108.05], "nice": false, "zero": false}, "axis": null},
        "y": {"datum": 1.29e-4, "type": "quantitative", "scale": {"type": "log", "domain": [8.093e-11, 1.2333e-3], "nice": false, "zero": false}, "axis": null}
      }
    },
    {
      "data": {"values": [{}]},
      "mark": {"type": "text", "text": "Pitch", "font": "DejaVu Sans", "fontSize": 62, "align": "left", "baseline": "alphabetic", "color": "#ff0000"},
      "encoding": {
        "x": {"datum": 141.2, "type": "quantitative", "scale": {"type": "log", "domain": [0.009249, 108.05], "nice": false, "zero": false}, "axis": null},
        "y": {"datum": 3.36e-5, "type": "quantitative", "scale": {"type": "log", "domain": [8.093e-11, 1.2333e-3], "nice": false, "zero": false}, "axis": null}
      }
    },
    {
      "data": {"values": [{}]},
      "mark": {"type": "text", "text": "2.0", "font": "DejaVu Sans", "fontSize": 62, "align": "left", "baseline": "alphabetic", "color": "#ff0000"},
      "encoding": {
        "x": {"datum": 574.4, "type": "quantitative", "scale": {"type": "log", "domain": [0.009249, 108.05], "nice": false, "zero": false}, "axis": null},
        "y": {"datum": 3.36e-5, "type": "quantitative", "scale": {"type": "log", "domain": [8.093e-11, 1.2333e-3], "nice": false, "zero": false}, "axis": null}
      }
    },
    {
      "data": {"values": [{}]},
      "mark": {"type": "text", "text": "μ", "font": "Noto Sans CJK JP", "fontSize": 62, "align": "left", "baseline": "alphabetic", "color": "#ff0000"},
      "encoding": {
        "x": {"datum": 1192.7, "type": "quantitative", "scale": {"type": "log", "domain": [0.009249, 108.05], "nice": false, "zero": false}, "axis": null},
        "y": {"datum": 3.36e-5, "type": "quantitative", "scale": {"type": "log", "domain": [8.093e-11, 1.2333e-3], "nice": false, "zero": false}, "axis": null}
      }
    },
    {
      "data": {"values": [{}]},
      "mark": {"type": "text", "text": "rad", "font": "DejaVu Sans", "fontSize": 62, "align": "left", "baseline": "alphabetic", "color": "#ff0000"},
      "encoding": {
        "x": {"datum": 1886, "type": "quantitative", "scale": {"type": "log", "domain": [0.009249, 108.05], "nice": false, "zero": false}, "axis": null},
        "y": {"datum": 3.36e-5, "type": "quantitative", "scale": {"type": "log", "domain": [8.093e-11, 1.2333e-3], "nice": false, "zero": false}, "axis": null}
      }
    },
    {
      "data": {"values": [{}]},
      "mark": {"type": "text", "text": "Yaw", "font": "DejaVu Sans", "fontSize": 62, "align": "left", "baseline": "alphabetic", "color": "#0000ff"},
      "encoding": {
        "x": {"datum": 145.3, "type": "quantitative", "scale": {"type": "log", "domain": [0.009249, 108.05], "nice": false, "zero": false}, "axis": null},
        "y": {"datum": 8.6e-6, "type": "quantitative", "scale": {"type": "log", "domain": [8.093e-11, 1.2333e-3], "nice": false, "zero": false}, "axis": null}
      }
    },
    {
      "data": {"values": [{}]},
      "mark": {"type": "text", "text": "75", "font": "DejaVu Sans", "fontSize": 62, "align": "left", "baseline": "alphabetic", "color": "#0000ff"},
      "encoding": {
        "x": {"datum": 578.6, "type": "quantitative", "scale": {"type": "log", "domain": [0.009249, 108.05], "nice": false, "zero": false}, "axis": null},
        "y": {"datum": 8.6e-6, "type": "quantitative", "scale": {"type": "log", "domain": [8.093e-11, 1.2333e-3], "nice": false, "zero": false}, "axis": null}
      }
    },
    {
      "data": {"values": [{}]},
      "mark": {"type": "text", "text": "μ", "font": "Noto Sans CJK JP", "fontSize": 62, "align": "left", "baseline": "alphabetic", "color": "#0000ff"},
      "encoding": {
        "x": {"datum": 1026, "type": "quantitative", "scale": {"type": "log", "domain": [0.009249, 108.05], "nice": false, "zero": false}, "axis": null},
        "y": {"datum": 8.6e-6, "type": "quantitative", "scale": {"type": "log", "domain": [8.093e-11, 1.2333e-3], "nice": false, "zero": false}, "axis": null}
      }
    },
    {
      "data": {"values": [{}]},
      "mark": {"type": "text", "text": "rad", "font": "DejaVu Sans", "fontSize": 62, "align": "left", "baseline": "alphabetic", "color": "#0000ff"},
      "encoding": {
        "x": {"datum": 1577, "type": "quantitative", "scale": {"type": "log", "domain": [0.009249, 108.05], "nice": false, "zero": false}, "axis": null},
        "y": {"datum": 8.6e-6, "type": "quantitative", "scale": {"type": "log", "domain": [8.093e-11, 1.2333e-3], "nice": false, "zero": false}, "axis": null}
      }
    }
  ]
}
